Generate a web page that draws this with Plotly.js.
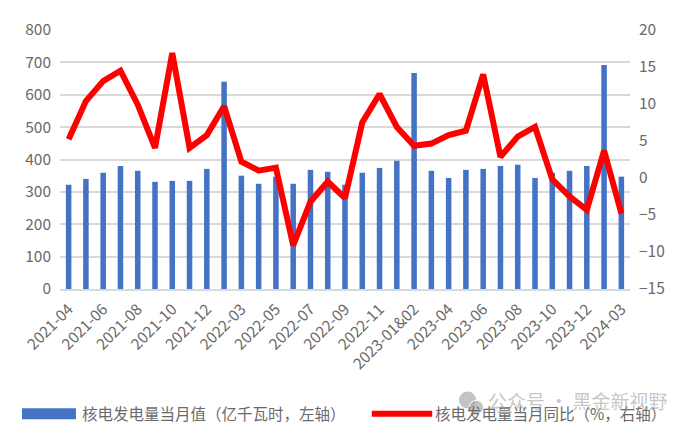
<!DOCTYPE html>
<html><head><meta charset="utf-8">
<script src="https://cdn.plot.ly/plotly-3.0.1.min.js"></script>
<style>html,body{margin:0;padding:0;background:#fff}</style></head>
<body><div id="chart" style="width:690px;height:430px"></div>
<script>
const months = ["2021-04","2021-05","2021-06","2021-07","2021-08","2021-09","2021-10","2021-11","2021-12","2022-01&02","2022-03","2022-04","2022-05","2022-06","2022-07","2022-08","2022-09","2022-10","2022-11","2022-12","2023-01&02","2023-03","2023-04","2023-05","2023-06","2023-07","2023-08","2023-09","2023-10","2023-11","2023-12","2024-01&02","2024-03"];
const tickLabels = ["2021-04","2021-06","2021-08","2021-10","2021-12","2022-03","2022-05","2022-07","2022-09","2022-11","2023-01&02","2023-04","2023-06","2023-08","2023-10","2023-12","2024-03"];
const generation = [322,340,359,380,365,331,334,334,371,640,350,325,347,325,368,362,322,359,374,396,667,365,343,368,371,380,384,343,359,365,380,692,347];
const yoy = [5.25,10.4,13.1,14.5,9.9,4.07,16.9,4.07,5.8,9.7,2.2,1.0,1.4,-9.1,-3.2,-0.5,-2.7,7.5,11.35,6.9,4.35,4.65,5.8,6.4,14.0,2.85,5.6,6.9,-0.2,-2.5,-4.3,3.7,-4.8];
const barName = "核电发电量当月值（亿千瓦时，左轴）";
const lineName = "核电发电量当月同比（%，右轴）";
const watermark = "公众号 · 黑金新视野";
const FONT = '"Noto Sans CJK SC","Noto Sans",sans-serif';
const TEXT = "#6a6a6a";
const tickFont = {family: FONT, size: 15.5, color: TEXT};
const traces = [
 {type:"bar", x:months, y:generation, name:barName, marker:{color:"#4472C4"}, width:0.32, showlegend:false, yaxis:"y"},
 {type:"scatter", mode:"lines", x:months, y:yoy, name:lineName, line:{color:"#FF0000", width:6}, yaxis:"y2", showlegend:false}
];
const layout = {
 width:690, height:430, autosize:false,
 margin:{l:60,r:60,t:30,b:140.5},
 paper_bgcolor:"#fff", plot_bgcolor:"#fff",
 font:{family:FONT, color:TEXT},
 showlegend:false,
 xaxis:{type:"category", categoryorder:"array", categoryarray:months, tickmode:"array", tickvals:tickLabels, ticktext:tickLabels, tickangle:-45, tickfont:tickFont, ticklabelstandoff:3, range:[-0.5,32.5], showgrid:false, ticks:"", showline:true, linecolor:"#D9D9D9", linewidth:2, zeroline:false},
 yaxis:{range:[0,800], dtick:100, tickfont:tickFont, ticklabelstandoff:8, gridcolor:"#D9D9D9", gridwidth:2, zeroline:false, ticks:"", automargin:false},
 yaxis2:{range:[-15,20], dtick:5, overlaying:"y", side:"right", tickfont:tickFont, ticklabelstandoff:8, showgrid:false, zeroline:false, ticks:"", automargin:false},
 shapes:[
  {type:"rect", xref:"paper", yref:"paper", x0:-0.0667, x1:0.028, y0:-0.503, y1:-0.4605, fillcolor:"#4472C4", line:{width:0}},
  {type:"line", xref:"paper", yref:"paper", x0:0.547, x1:0.653, y0:-0.4817, y1:-0.4817, line:{color:"#FF0000", width:6}},
  {type:"circle", xref:"paper", yref:"paper", x0:0.7, x1:0.73, y0:-0.461, y1:-0.396, fillcolor:"rgba(170,170,170,0.7)", line:{width:0}},
  {type:"circle", xref:"paper", yref:"paper", x0:0.718, x1:0.743, y0:-0.483, y1:-0.43, fillcolor:"rgba(170,170,170,0.7)", line:{color:"#fff",width:1}}
 ],
 annotations:[
  {xref:"paper", yref:"paper", x:0.0351, y:-0.478, xanchor:"left", yanchor:"middle", text:barName, showarrow:false, font:{family:FONT,size:15.5,color:TEXT}},
  {xref:"paper", yref:"paper", x:0.6545, y:-0.478, xanchor:"left", yanchor:"middle", text:lineName, showarrow:false, font:{family:FONT,size:15.5,color:TEXT}},
  {xref:"paper", yref:"paper", x:0.747, y:-0.432, xanchor:"left", yanchor:"middle", text:watermark, showarrow:false, font:{family:FONT,size:19,color:"rgba(150,150,150,0.55)"}}
 ]
};
Plotly.newPlot("chart", traces, layout, {displayModeBar:false, staticPlot:true});
</script></body></html>
